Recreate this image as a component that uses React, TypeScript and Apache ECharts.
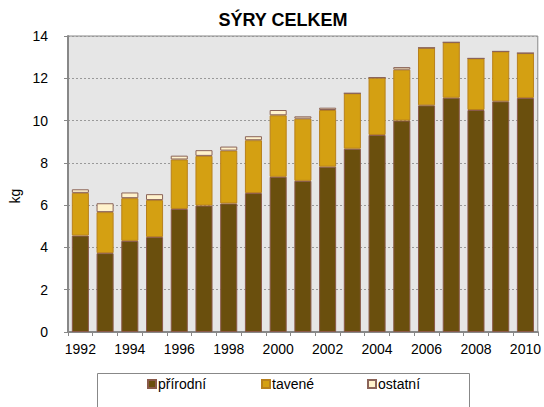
import React, { useEffect, useRef } from "react";
import * as echarts from "echarts";

const years = ["1992","1993","1994","1995","1996","1997","1998","1999","2000","2001","2002","2003","2004","2005","2006","2007","2008","2009","2010"];
const prirodni = [4.56,3.73,4.31,4.49,5.82,5.98,6.08,6.57,7.34,7.15,7.82,8.67,9.32,10.0,10.72,11.08,10.5,10.91,11.07];
const tavene = [2.02,1.94,2.02,1.75,2.34,2.35,2.5,2.5,2.91,2.94,2.68,2.62,2.71,2.41,2.72,2.62,2.44,2.36,2.12];
const ostatni = [0.17,0.42,0.27,0.28,0.18,0.27,0.19,0.19,0.25,0.11,0.11,0,0,0.12,0,0,0,0,0];
const seriesNames = ["přírodní", "tavené", "ostatní"];

export default function App() {
  const ref = useRef<HTMLDivElement>(null);
  useEffect(() => {
    const chart = echarts.init(ref.current!, null, { renderer: "svg" });
    const font = "Liberation Sans, Arial, sans-serif";
    const legendLefts = [147, 261, 367];
    chart.setOption({
      animation: false,
      backgroundColor: "#ffffff",
      textStyle: { fontFamily: font },
      title: {
        text: "SÝRY CELKEM",
        left: 278,
        textAlign: "center",
        top: 6,
        textStyle: { fontFamily: font, fontSize: 18, fontWeight: "bold", color: "#000" },
      },
      graphic: [
        { type: "rect", shape: { x: 97.5, y: 373.5, width: 372, height: 40 }, style: { fill: "#fff", stroke: "#888", lineWidth: 1 }, z: -1 },
        { type: "text", x: 15, y: 196, rotation: Math.PI / 2, style: { text: "kg", fontFamily: font, fontSize: 14, fill: "#000", textAlign: "center", textVerticalAlign: "middle" } },
      ],
      legend: seriesNames.map((n, i) => ({
        data: [n],
        left: legendLefts[i],
        top: 377,
        padding: 0,
        itemWidth: 8,
        itemHeight: 8,
        itemGap: 0,
        icon: "rect",
        textStyle: { fontFamily: font, fontSize: 14, color: "#000", padding: [0, 0, 0, -3] },
      })),
      grid: { left: 68, right: 6, top: 36, bottom: 75, show: true, backgroundColor: "#e6e6e6", borderColor: "#888", borderWidth: 1 },
      xAxis: {
        type: "category",
        data: years,
        axisLine: { lineStyle: { color: "#888", width: 2 } },
        axisTick: { show: true, alignWithLabel: false, interval: 0, length: 4, lineStyle: { color: "#888" } },
        axisLabel: { interval: 1, color: "#000", fontSize: 14, fontFamily: font, margin: 10 },
      },
      yAxis: {
        type: "value",
        min: 0,
        max: 14,
        interval: 2,
        axisLine: { show: true, lineStyle: { color: "#888", width: 2 } },
        axisTick: { show: true, length: 4, inside: false, lineStyle: { color: "#888" } },
        axisLabel: { color: "#000", fontSize: 14, fontFamily: font, margin: 20 },
        splitLine: { lineStyle: { color: "#999", type: [2, 2], width: 1 } },
      },
      series: [
        {
          name: seriesNames[0], type: "bar", stack: "a", data: prirodni, barCategoryGap: "31%",
          itemStyle: { color: "#6a4f0d", borderColor: "#8a5a4a", borderWidth: 1 },
        },
        {
          name: seriesNames[1], type: "bar", stack: "a", data: tavene,
          itemStyle: { color: "#d4a012", borderColor: "#b8801c", borderWidth: 1 },
        },
        {
          name: seriesNames[2], type: "bar", stack: "a", data: ostatni,
          itemStyle: { color: "#fff2cc", borderColor: "#8b6459", borderWidth: 1 },
        },
      ],
    });
    return () => chart.dispose();
  }, []);
  return <div ref={ref} style={{ width: 544, height: 407, position: "absolute", left: 0, top: 0 }} />;
}
